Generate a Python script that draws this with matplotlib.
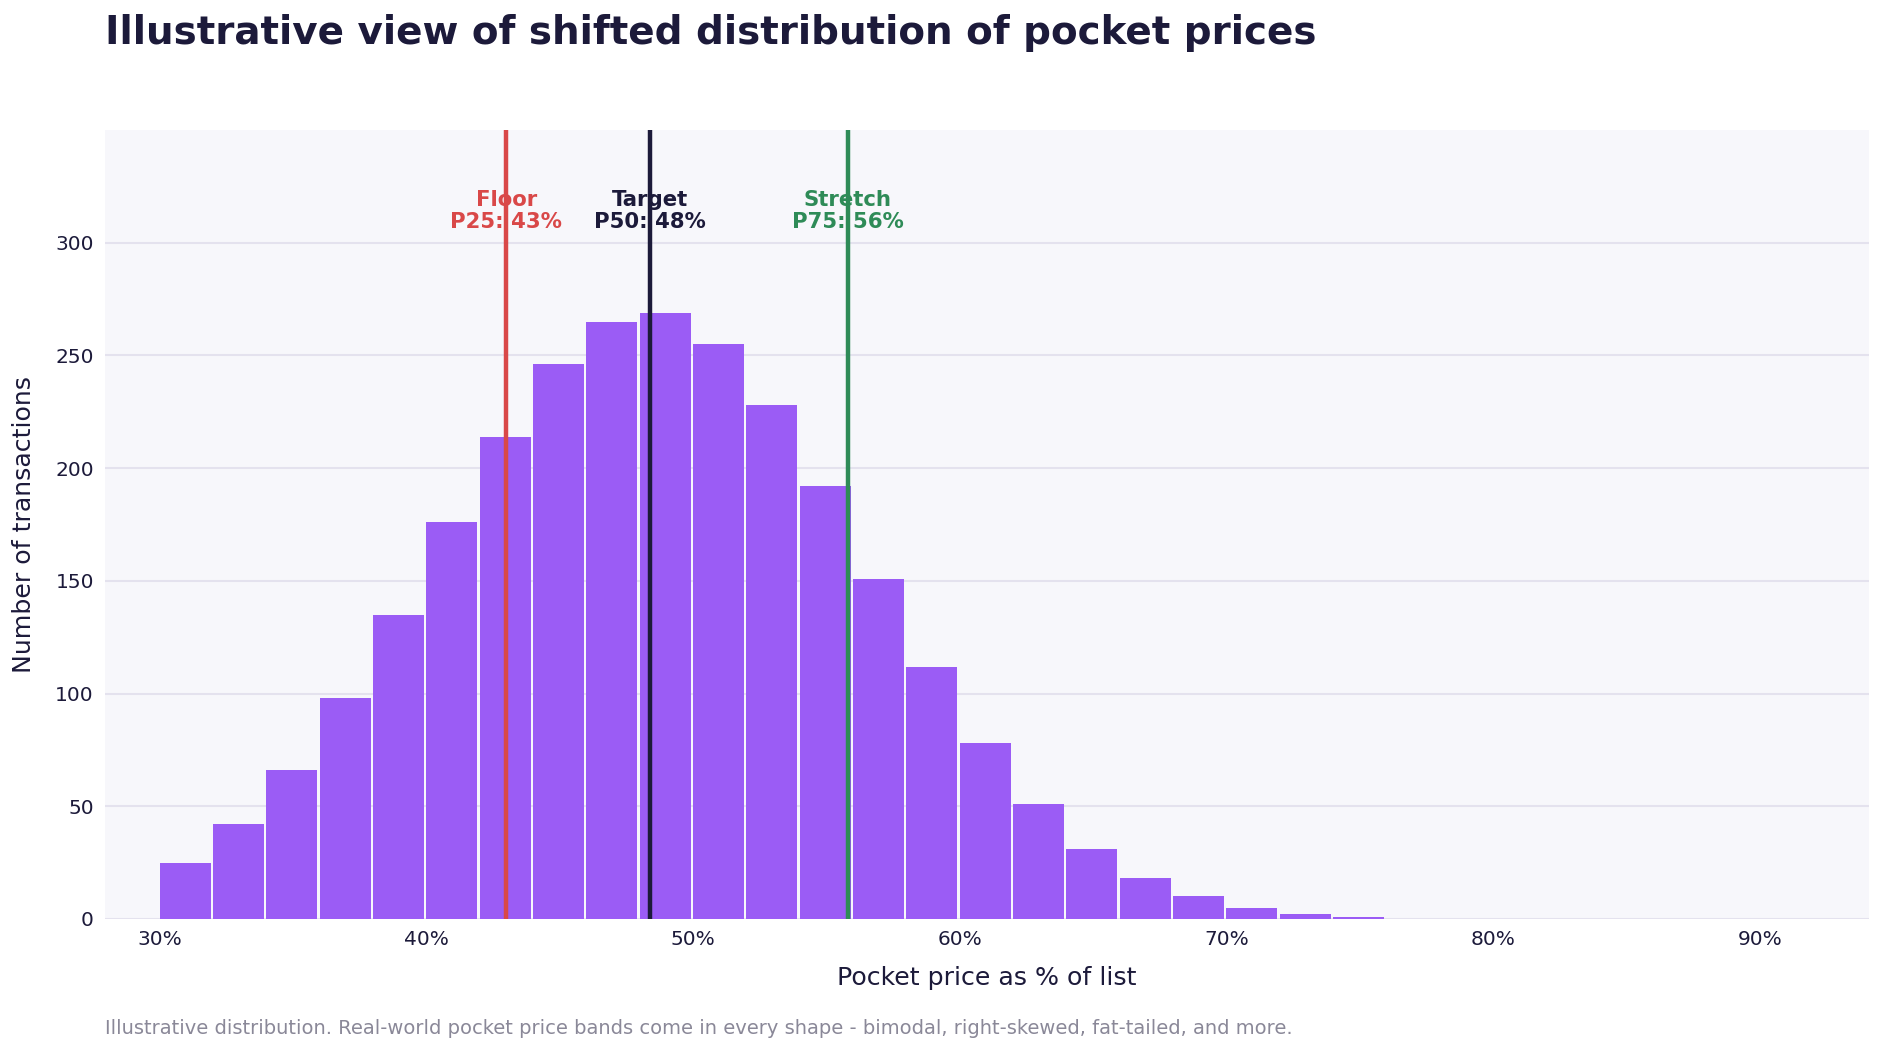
import matplotlib
matplotlib.use("Agg")
import matplotlib.pyplot as plt
from matplotlib.ticker import FuncFormatter

# histogram bins: left edges (% of list) and transaction counts
bin_edges = [30, 32, 34, 36, 38, 40, 42, 44, 46, 48, 50, 52, 54, 56, 58, 60,
             62, 64, 66, 68, 70, 72, 74, 76]
counts = [25, 42, 66, 98, 135, 176, 214, 246, 265, 269, 255, 228, 192, 151,
          112, 78, 51, 31, 18, 10, 5, 2, 1]

# percentile markers
marker_names = ["Floor", "Target", "Stretch"]
marker_tags = ["P25", "P50", "P75"]
marker_values = [43.0, 48.4, 55.8]
marker_labels = ["43%", "48%", "56%"]
marker_colors = ["#d94848", "#1c1a3a", "#2e8b57"]

x_ticks = [30, 40, 50, 60, 70, 80, 90]

TEXT = "#1c1a3a"
BAR = "#9b5cf5"

fig = plt.figure(figsize=(18.83, 10.52), dpi=100)
ax = fig.add_axes([105 / 1883, 1 - 919 / 1052, (1869 - 105) / 1883, (919 - 130) / 1052])
ax.set_facecolor("#f7f7fb")

# small gap between bars, like the white separators in the original
widths = [(bin_edges[i + 1] - bin_edges[i]) * 0.957 for i in range(len(counts))]
ax.bar(bin_edges[:-1], counts, width=widths, align="edge", color=BAR,
       linewidth=0, zorder=2)

for name, tag, val, lab, col in zip(marker_names, marker_tags, marker_values,
                                    marker_labels, marker_colors):
    ax.axvline(val, color=col, linewidth=3.2, zorder=3)
    ax.text(val, 314, f"{name}\n{tag}: {lab}", color=col, fontsize=15.3,
            fontweight="bold", ha="center", va="center", linespacing=1.15,
            zorder=4)

ax.set_xlim(27.95, 94.1)
ax.set_ylim(0, 350)
ax.set_xticks(x_ticks)
ax.xaxis.set_major_formatter(FuncFormatter(lambda v, p: f"{v:.0f}%"))
ax.set_yticks([0, 50, 100, 150, 200, 250, 300])
ax.grid(axis="y", color="#e4e2ee", linewidth=1.5, zorder=0)
ax.set_axisbelow(True)
for s in ax.spines.values():
    s.set_visible(False)
ax.tick_params(length=0, labelsize=14.5, colors=TEXT, pad=8)

ax.set_xlabel("Pocket price as % of list", fontsize=18.2, color=TEXT, labelpad=12)
ax.set_ylabel("Number of transactions", fontsize=18.2, color=TEXT, labelpad=14)

fig.text(105 / 1883, 1 - 33 / 1052, "Illustrative view of shifted distribution of pocket prices",
         fontsize=28, fontweight="bold", color=TEXT, ha="left", va="center")
fig.text(105 / 1883, 1 - 1028 / 1052,
         "Illustrative distribution. Real-world pocket price bands come in every shape - bimodal, right-skewed, fat-tailed, and more.",
         fontsize=14, color="#8a8898", ha="left", va="center")

fig.savefig("out.png", dpi=100, facecolor="white")
